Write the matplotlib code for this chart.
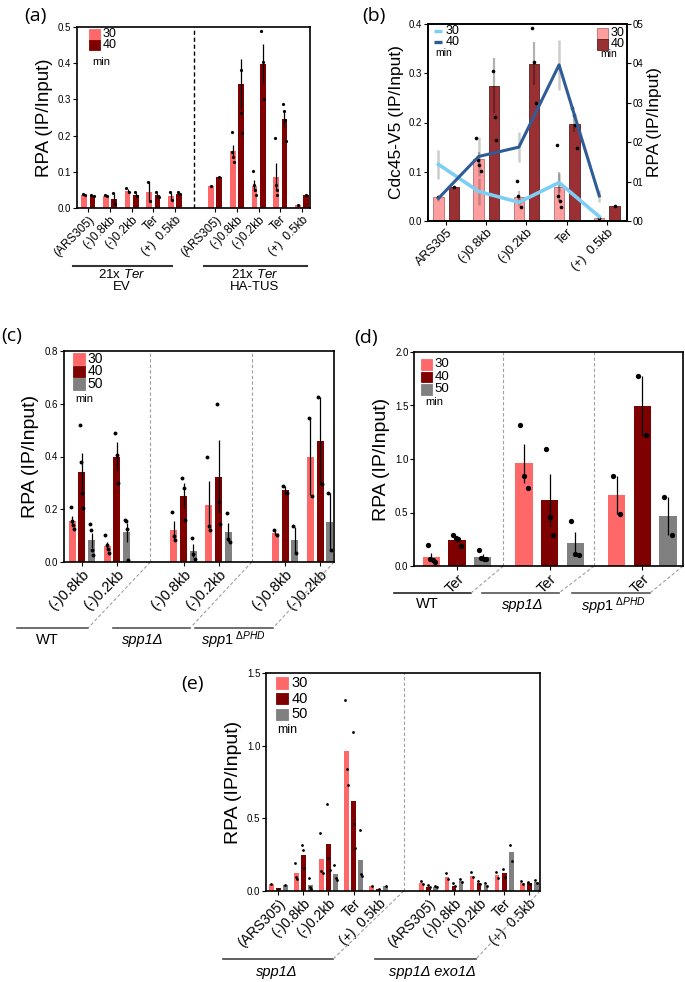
import numpy as np
import matplotlib
matplotlib.use("Agg")
import matplotlib.pyplot as plt
from matplotlib.patches import Rectangle

plt.rcParams['font.family'] = ['Liberation Sans', 'DejaVu Sans']
plt.rcParams['mathtext.fontset'] = 'custom'
plt.rcParams['mathtext.rm'] = 'Liberation Sans'
plt.rcParams['mathtext.it'] = 'Liberation Sans:italic'

# ---- data ----
sites = ["(ARS305)", "(-)0.8kb", "(-)0.2kb", "Ter", "(+)  0.5kb"]
sites_b = ["ARS305", "(-)0.8kb", "(-)0.2kb", "Ter", "(+)  0.5kb"]
sites_c = ["(-)0.8kb", "(-)0.2kb"]

# (a) 21x Ter EV
a_ev_30 = [0.037, 0.034, 0.047, 0.045, 0.032]
a_ev_40 = [0.034, 0.024, 0.036, 0.035, 0.040]
a_ev_30_pts = [[0.038, 0.035], [0.035, 0.033], [0.055, 0.045], [0.072, 0.020], [0.043, 0.022]]
a_ev_40_pts = [[0.036, 0.033], [0.041, 0.012], [0.043, 0.033], [0.043, 0.030], [0.044, 0.038]]
# (a) 21x Ter HA-TUS
a_tus_30 = [0.061, 0.157, 0.062, 0.087, 0.007]
a_tus_40 = [0.086, 0.343, 0.399, 0.247, 0.037]
a_tus_30_pts = [[0.061], [0.21, 0.156, 0.142, 0.127], [0.102, 0.064, 0.05, 0.035],
                [0.193, 0.064, 0.051, 0.036], [0.007]]
a_tus_40_pts = [[0.086], [0.52, 0.38, 0.263, 0.206], [0.49, 0.404, 0.30],
                [0.288, 0.269, 0.244, 0.186], [0.037]]

# (b) Cdc45-V5 lines (left axis)
cdc45_30 = [0.115, 0.060, 0.038, 0.078, 0.009]
cdc45_30_err = [0.030, 0.028, 0.008, 0.020, 0.004]
cdc45_40 = [0.046, 0.131, 0.150, 0.317, 0.051]
cdc45_40_err = [0.005, 0.040, 0.030, 0.050, 0.012]

# (c) WT, spp1d, spp1-dPHD at (-)0.8kb, (-)0.2kb
c_30 = [0.157, 0.062, 0.122, 0.217, 0.110, 0.400]
c_40 = [0.343, 0.399, 0.251, 0.324, 0.272, 0.460]
c_50 = [0.082, 0.112, 0.043, 0.115, 0.084, 0.152]
c_30_pts = [a_tus_30_pts[1], a_tus_30_pts[2], [0.191, 0.097, 0.084], [0.397, 0.135, 0.122],
            [0.12, 0.104], [0.547, 0.252]]
c_40_pts = [a_tus_40_pts[1], a_tus_40_pts[2], [0.317, 0.28, 0.16], [0.60, 0.229, 0.145],
            [0.29, 0.26], [0.626, 0.295]]
c_50_pts = [[0.145, 0.12, 0.047, 0.028], [0.16, 0.154, 0.125, 0.008], [0.092, 0.03, 0.012],
            [0.185, 0.087, 0.076], [0.135, 0.034], [0.263, 0.047]]

# (d) Ter
d_30 = [0.088, 0.960, 0.663]
d_40 = [0.247, 0.616, 1.497]
d_50 = [0.088, 0.213, 0.466]
d_30_pts = [[0.194, 0.066, 0.053, 0.04], [1.316, 0.84, 0.73], [0.84, 0.484]]
d_40_pts = [[0.29, 0.266, 0.25, 0.184], [1.097, 0.46, 0.294], [1.778, 1.22]]
d_50_pts = [[0.147, 0.075, 0.069, 0.063], [0.42, 0.116, 0.106], [0.644, 0.294]]

# (e) spp1d
e_sp_30 = [0.051, c_30[2], c_30[3], d_30[1], 0.035]
e_sp_40 = [0.020, c_40[2], c_40[3], d_40[1], 0.012]
e_sp_50 = [0.040, c_50[2], c_50[3], d_50[1], 0.037]
e_sp_30_pts = [[0.051], c_30_pts[2], c_30_pts[3], d_30_pts[1], [0.035]]
e_sp_40_pts = [[0.014], c_40_pts[2], c_40_pts[3], d_40_pts[1], [0.012]]
e_sp_50_pts = [[0.040], c_50_pts[2], [0.18, 0.087, 0.076], d_50_pts[1], [0.037]]
# (e) spp1d exo1d
e_ex_30 = [0.053, 0.094, 0.104, 0.108, 0.058]
e_ex_40 = [0.030, 0.037, 0.055, 0.122, 0.053]
e_ex_50 = [0.030, 0.069, 0.044, 0.265, 0.062]
e_ex_30_pts = [[0.07, 0.045], [0.122, 0.083], [0.131, 0.097], [0.131, 0.087], [0.069, 0.048]]
e_ex_40_pts = [[0.041, 0.028], [0.058, 0.032], [0.069, 0.046], [0.15, 0.097], [0.064, 0.046]]
e_ex_50_pts = [[0.037, 0.025], [0.085, 0.06], [0.058, 0.037], [0.317, 0.207], [0.074, 0.055]]

PINK = "#FF6868"
DARK = "#7F0000"
GREY = "#808080"
B_PINK = "#FF9E9E"
B_DARK = "#9A3034"
L_BLUE = "#7DCEF5"
D_BLUE = "#2E5C96"
SEP = "#A0A0A0"

W, H = 685, 982
fig = plt.figure(figsize=(W / 100, H / 100), dpi=100)


def add_ax(l, t, r, b):
    return fig.add_axes([l / W, 1 - b / H, (r - l) / W, (b - t) / H])


def se(p):
    p = np.asarray(p, float)
    return p.std(ddof=1) / np.sqrt(len(p)) if len(p) > 1 else 0.0


def draw_bars(ax, xs, heights, pts, color, width, ms, err=True, ecolor='black',
              elw=0.9, ealpha=1.0, **kw):
    xs = np.asarray(xs, float)
    ax.bar(xs, heights, width=width, color=color, zorder=2, **kw)
    if err:
        ax.errorbar(xs, heights, yerr=[se(p) for p in pts], fmt='none', ecolor=ecolor,
                    elinewidth=elw, capsize=0, alpha=ealpha, zorder=3)
    for x, p in zip(xs, pts):
        n = len(p)
        dx = np.linspace(-width * 0.22, width * 0.22, n) if n > 1 else np.zeros(1)
        ax.plot(x + dx, p, 'o', color='black', ms=ms, mew=0, zorder=4)


def style(ax, ylim, yticks, ylabel, ysize=13, labelpad=4):
    ax.set_ylim(*ylim)
    ax.set_yticks(yticks)
    ax.set_yticklabels([f"{v:.1f}" for v in yticks])
    ax.set_ylabel(ylabel, fontsize=ysize, labelpad=labelpad)
    ax.tick_params(direction='out', length=3, width=0.8, labelsize=7, pad=1)
    for s in ax.spines.values():
        s.set_linewidth(1.2)


def xlabels(ax, pos, labels, fs):
    ax.set_xticks(pos)
    ax.set_xticklabels(labels, rotation=45, ha='right', va='top',
                       rotation_mode='anchor', fontsize=fs)


def key(ax, dx, dy, entries, size=11, step=11, fs=9, gap=4, lines=False,
        min_xy=None, min_fs=7.5):
    # dx, dy: pixel offsets of the first key from the axes top-left corner
    bb = ax.get_position()
    aw, ah = bb.width * W, bb.height * H
    for i, (lab, col) in enumerate(entries):
        top = 1 - (dy + i * step) / ah
        x0 = dx / aw
        if lines:
            ax.plot([x0, x0 + size / aw], [top - size / 2 / ah] * 2, color=col, lw=2.4,
                    transform=ax.transAxes, clip_on=False, solid_capstyle='butt', zorder=6)
        else:
            ax.add_patch(Rectangle((x0, top - size / ah), size / aw, size / ah,
                                   transform=ax.transAxes, facecolor=col[0],
                                   edgecolor=col[1], lw=0.6, clip_on=False, zorder=6))
        ax.text(x0 + (size + gap) / aw, top - size / 2 / ah, lab, transform=ax.transAxes,
                fontsize=fs, va='center', ha='left', zorder=6)
    if min_xy is not None:
        ax.text(min_xy[0] / aw, 1 - min_xy[1] / ah, "min", transform=ax.transAxes,
                fontsize=min_fs, va='center', ha='left')


def underline(ax, x0, x1, y, text, tx, ty, fs=10.5, color='#333333', lw=1.2, **kw):
    ax.plot([x0, x1], [y, y], transform=ax.transAxes, color=color, lw=lw, clip_on=False)
    ax.text(tx, ty, text, transform=ax.transAxes, ha='center', va='center', fontsize=fs, **kw)


def diag(ax, sep, x1, y):
    lo, hi = ax.get_xlim()
    xs = (sep - lo) / (hi - lo)
    ax.plot([xs, x1], [0, y], transform=ax.transAxes, ls=(0, (3, 2)), color=SEP, lw=0.8,
            clip_on=False)


def panel_label(x, y, text):
    fig.text(x / W, 1 - y / H, text, ha='center', va='center', fontsize=14,
             family='Open Sans')


# ================= (a) =================
ax = add_ax(77, 27, 310, 208)
pos_ev = np.arange(5)
pos_tus = np.arange(5) + 5.85
wa, oa = 0.26, 0.19
draw_bars(ax, pos_ev - oa, a_ev_30, a_ev_30_pts, PINK, wa, 2.3)
draw_bars(ax, pos_ev + oa, a_ev_40, a_ev_40_pts, DARK, wa, 2.3)
draw_bars(ax, pos_tus - oa, a_tus_30, a_tus_30_pts, PINK, wa, 2.3)
draw_bars(ax, pos_tus + oa, a_tus_40, a_tus_40_pts, DARK, wa, 2.3)
ax.axvline(4.85, color='black', ls=(0, (3, 2)), lw=1.0)
ax.set_xlim(-0.52, 10.22)
style(ax, (0, 0.5), np.arange(0, 0.51, 0.1), "RPA (IP/Input)", ysize=13.5)
xlabels(ax, np.concatenate([pos_ev, pos_tus]), sites + sites, 8.5)
key(ax, 12, 2, [("30", (PINK, PINK)), ("40", (DARK, DARK))], size=10.7, step=10.7,
    fs=9, gap=3, min_xy=(15, 35), min_fs=8)
underline(ax, -0.017, 0.408, -0.32, "21x $\\mathit{Ter}$", 0.193, -0.37, fs=9.5, lw=1.5)
ax.text(0.193, -0.436, "EV", transform=ax.transAxes, ha='center', va='center', fontsize=9.5)
underline(ax, 0.545, 0.987, -0.32, "21x $\\mathit{Ter}$", 0.764, -0.37, fs=9.5, lw=1.5)
ax.text(0.764, -0.436, "HA-TUS", transform=ax.transAxes, ha='center', va='center',
        fontsize=9.5)
panel_label(35, 16, "(a)")

# ================= (b) =================
axb = add_ax(428, 24, 627, 221)
axr = axb.twinx()
axb.set_zorder(axr.get_zorder() + 1)
axb.patch.set_visible(False)
pos_b = np.arange(5)
ob, wb = 0.19, 0.26
draw_bars(axr, pos_b - ob, a_tus_30, a_tus_30_pts, B_PINK, wb, 2.6, ecolor='black',
          elw=1.6, ealpha=0.25, edgecolor='#B07070', linewidth=0.6)
draw_bars(axr, pos_b + ob, a_tus_40, a_tus_40_pts, B_DARK, wb, 2.6, ecolor='black',
          elw=1.6, ealpha=0.3, edgecolor='#5A2020', linewidth=0.6)
axr.set_ylim(0, 0.5)
axr.set_yticks(np.arange(0, 0.51, 0.1))
axr.set_yticklabels(["00", "01", "02", "03", "04", "05"])
axr.set_ylabel("RPA (IP/Input)", fontsize=12.5, labelpad=3)
axr.tick_params(direction='out', length=3, width=0.8, labelsize=7, pad=1)
axb.errorbar(pos_b - ob, cdc45_30, yerr=cdc45_30_err, fmt='none', ecolor='black',
             alpha=0.2, elinewidth=1.8, capsize=0, zorder=2)
axb.errorbar(pos_b - ob, cdc45_40, yerr=cdc45_40_err, fmt='none', ecolor='black',
             alpha=0.2, elinewidth=1.8, capsize=0, zorder=2)
axb.plot(pos_b - ob, cdc45_30, color=L_BLUE, lw=2.6, zorder=3)
axb.plot(pos_b - ob, cdc45_40, color=D_BLUE, lw=2.2, zorder=3)
axb.set_xlim(-0.45, 4.5)
style(axb, (0, 0.4), np.arange(0, 0.41, 0.1), "Cdc45-V5 (IP/Input)", ysize=12.5)
for s in axr.spines.values():
    s.set_linewidth(1.2)
xlabels(axb, pos_b, sites_b, 9)
key(axb, 6, 3, [("30", L_BLUE), ("40", D_BLUE)], size=8, step=11, fs=9, gap=4,
    lines=True, min_xy=(7, 29), min_fs=7.5)
key(axr, 169, 4, [("30", (B_PINK, '#B07070')), ("40", (B_DARK, '#5A2020'))], size=10.5,
    step=11, fs=9, gap=3.5, min_xy=(172, 30), min_fs=7.5)
panel_label(374, 16, "(b)")

# ================= (c) =================
axc = add_ax(64, 351, 334, 562)
pos_c = np.array([0, 1, 2.91, 3.91, 5.81, 6.81])
oc, wc = 0.28, 0.2
draw_bars(axc, pos_c - oc, c_30, c_30_pts, PINK, wc, 2.8)
draw_bars(axc, pos_c, c_40, c_40_pts, DARK, wc, 2.8)
draw_bars(axc, pos_c + oc, c_50, c_50_pts, GREY, wc, 2.8)
seps_c = [1.96, 4.86]
for s in seps_c:
    axc.axvline(s, color=SEP, ls=(0, (3, 2)), lw=0.8)
axc.set_xlim(-0.51, 7.21)
style(axc, (0, 0.8), np.arange(0, 0.81, 0.2), "RPA (IP/Input)", ysize=14)
xlabels(axc, pos_c, sites_c * 3, 10.5)
key(axc, 9, 2, [("30", (PINK, PINK)), ("40", (DARK, DARK)), ("50", (GREY, GREY))],
    size=11.5, step=12.5, fs=10, gap=3, min_xy=(11, 48), min_fs=8)
underline(axc, -0.174, 0.089, -0.313, "WT", -0.063, -0.37, color='#555555')
underline(axc, 0.181, 0.467, -0.313, "spp1Δ", 0.293, -0.37, color='#555555', style='italic')
underline(axc, 0.485, 0.774, -0.313, "$\\mathit{spp1}^{\\ \\mathit{ΔPHD}}$", 0.626, -0.37,
          color='#555555')
diag(axc, seps_c[0], 0.089, -0.313)
diag(axc, seps_c[1], 0.467, -0.313)
diag(axc, axc.get_xlim()[1], 0.774, -0.313)
panel_label(12, 336, "(c)")

# ================= (d) =================
axd = add_ax(414, 352, 683, 566)
pos_d = np.arange(3)
od, wd = 0.277, 0.187
draw_bars(axd, pos_d - od, d_30, d_30_pts, PINK, wd, 3.8)
draw_bars(axd, pos_d, d_40, d_40_pts, DARK, wd, 3.8)
draw_bars(axd, pos_d + od, d_50, d_50_pts, GREY, wd, 3.8)
seps_d = [0.5, 1.48]
for s in seps_d:
    axd.axvline(s, color=SEP, ls=(0, (3, 2)), lw=0.8)
axd.set_xlim(-0.464, 2.44)
style(axd, (0, 2.0), np.arange(0, 2.01, 0.5), "RPA (IP/Input)", ysize=14)
xlabels(axd, pos_d, ["Ter"] * 3, 10.5)
key(axd, 7, 7, [("30", (PINK, PINK)), ("40", (DARK, DARK)), ("50", (GREY, GREY))],
    size=10.7, step=12.5, fs=9.5, gap=3, min_xy=(11, 50), min_fs=8)
underline(axd, -0.074, 0.212, -0.126, "WT", 0.048, -0.178, color='#222222')
underline(axd, 0.253, 0.539, -0.126, "spp1Δ", 0.405, -0.182, color='#555555', style='italic')
underline(axd, 0.587, 0.877, -0.126, "$\\mathit{spp1}^{\\ \\mathit{ΔPHD}}$", 0.74, -0.19,
          color='#555555')
diag(axd, seps_d[0], 0.212, -0.126)
diag(axd, seps_d[1], 0.539, -0.126)
diag(axd, axd.get_xlim()[1], 0.877, -0.126)
panel_label(366, 338, "(d)")

# ================= (e) =================
axe = add_ax(266, 673, 540, 891)
pos_sp = np.arange(5)
pos_ex = np.arange(5) + 6
oe, we = 0.28, 0.19
draw_bars(axe, pos_sp - oe, e_sp_30, e_sp_30_pts, PINK, we, 2.0, err=False)
draw_bars(axe, pos_sp, e_sp_40, e_sp_40_pts, DARK, we, 2.0, err=False)
draw_bars(axe, pos_sp + oe, e_sp_50, e_sp_50_pts, GREY, we, 2.0, err=False)
draw_bars(axe, pos_ex - oe, e_ex_30, e_ex_30_pts, PINK, we, 2.0, err=False)
draw_bars(axe, pos_ex, e_ex_40, e_ex_40_pts, DARK, we, 2.0, err=False)
draw_bars(axe, pos_ex + oe, e_ex_50, e_ex_50_pts, GREY, we, 2.0, err=False)
axe.axvline(5, color=SEP, ls=(0, (3, 2)), lw=0.8)
axe.set_xlim(-0.49, 10.43)
style(axe, (0, 1.5), np.arange(0, 1.51, 0.5), "RPA (IP/Input)", ysize=14)
xlabels(axe, np.concatenate([pos_sp, pos_ex]), sites + sites, 10)
key(axe, 10, 4, [("30", (PINK, PINK)), ("40", (DARK, DARK)), ("50", (GREY, GREY))],
    size=11.6, step=15.8, fs=10.5, gap=4, min_xy=(11, 57), min_fs=9)
underline(axe, -0.157, 0.245, -0.312, "spp1Δ", 0.04, -0.372, color='#444444', style='italic')
underline(axe, 0.398, 0.766, -0.312, "spp1Δ exo1Δ", 0.606, -0.372, color='#444444',
          style='italic')
diag(axe, 5, 0.245, -0.312)
diag(axe, axe.get_xlim()[1], 0.766, -0.312)
panel_label(192, 684, "(e)")

fig.savefig("out.png", dpi=100)
